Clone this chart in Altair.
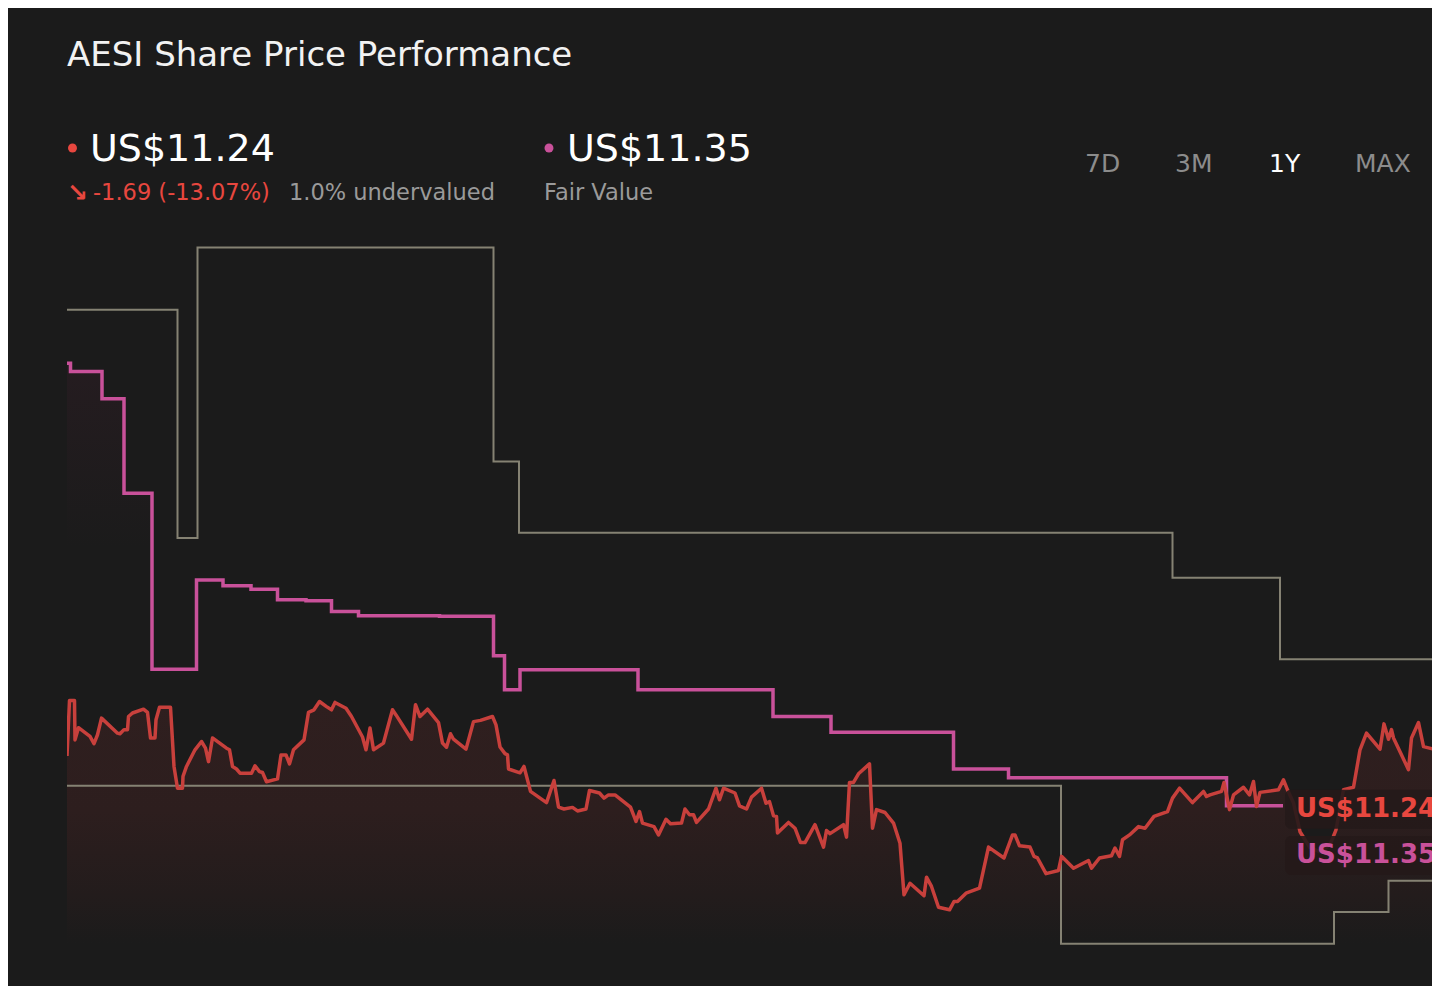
import altair as alt
import pandas as pd

# ---------------- data (trading-day index, price in US$) ----------------
price_day = [
    0, 0.5, 1.5, 1.6, 2.3, 4.6, 5.4, 6.1, 6.9, 10.1,
    10.6, 11.4, 12.1, 12.3, 13.1, 15.3, 16.1, 16.7, 17.6, 17.8,
    18.5, 20.7, 21.4, 22.1, 23.1, 23.2, 23.9, 25.6, 26.9, 27.7,
    28.3, 29.1, 31.9, 32.5, 33.1, 33.9, 34.6, 36.9, 37.6, 38.5,
    39.1, 39.9, 42.1, 42.8, 43.8, 44.5, 45.3, 47.4, 48.3, 49.4,
    50.5, 51.9, 52.9, 53.6, 55.8, 56.9, 59.1, 59.8, 60.6, 61.3,
    63.3, 65.1, 65.8, 68.9, 69.7, 70.6, 72.1, 74.3, 75.1, 75.9,
    76.7, 77.3, 79.8, 81.3, 82.7, 85.1, 85.8, 86.6, 87.6, 88.1,
    88.3, 90.6, 91.4, 92.7, 95.9, 97.4, 98.3, 99.4, 101.1, 102.1,
    103.8, 104.5, 106.5, 107.4, 108.3, 109.6, 112.7, 113.8, 114.5, 115.1,
    117.4, 118.3, 119.8, 120.7, 122.9, 123.6, 124.5, 125.3, 125.9, 128.3,
    129.8, 130.5, 131.3, 133.6, 134.5, 135.9, 136.9, 138.9, 139.8, 140.5,
    141.3, 141.9, 142.1, 144.3, 145.6, 146.7, 147.6, 149.6, 151.3, 151.9,
    152.6, 155.3, 155.9, 156.5, 157.3, 158.3, 160.5, 161.1, 161.9, 163.6,
    165.3, 166.6, 167.4, 168.6, 171.4, 171.9, 172.9, 174.3, 176.5, 177.4,
    178.1, 179.8, 182.5, 184.3, 187.4, 189.1, 189.6, 190.5, 192.6, 193.4,
    194.1, 195.8, 198.3, 198.9, 201.3, 204.3, 204.9, 206.5, 208.9, 209.6,
    210.5, 211.1, 212.5, 214.3, 215.6, 217.4, 220.1, 221.1, 222.5, 225.1,
    227.3, 227.9, 228.6, 230.9, 231.4, 232.5, 233.3, 235.3, 236.5, 237.3,
    237.9, 238.6, 242.3, 243.3, 244.1, 245.3, 246.6, 248.6, 250.6, 252.6,
    253.8, 255.3, 257.3, 258.6, 259.9, 262.6, 263.4, 264.3, 264.9, 265.3,
    268.3, 268.9, 270.3, 271.3, 273.9, 274.6,
]
price_val = [
    12.91, 14.64, 14.64, 13.41, 13.79, 13.52, 13.29, 13.57, 14.09, 13.62,
    13.60, 13.73, 13.73, 14.14, 14.25, 14.37, 14.27, 13.47, 13.47, 14.04,
    14.43, 14.43, 12.58, 11.90, 11.90, 12.27, 12.58, 13.10, 13.36, 13.15,
    12.73, 13.47, 13.15, 13.10, 12.58, 12.50, 12.37, 12.37, 12.60, 12.42,
    12.39, 12.10, 12.19, 12.94, 12.94, 12.66, 13.10, 13.41, 14.27, 14.35,
    14.61, 14.45, 14.35, 14.58, 14.40, 14.14, 13.50, 13.10, 13.78, 13.10,
    13.31, 14.35, 14.19, 13.43, 14.51, 14.14, 14.37, 13.95, 13.31, 13.18,
    13.60, 13.43, 13.12, 13.98, 14.02, 14.14, 13.88, 13.19, 12.98, 12.94,
    12.50, 12.38, 12.58, 11.80, 11.45, 12.14, 11.31, 11.25, 11.30, 11.19,
    11.25, 11.83, 11.75, 11.59, 11.69, 11.69, 11.31, 10.86, 11.17, 10.81,
    10.70, 10.44, 10.93, 10.79, 10.81, 11.25, 11.07, 11.07, 10.83, 11.25,
    11.90, 11.54, 11.90, 11.75, 11.35, 11.25, 11.62, 11.90, 11.43, 11.48,
    11.04, 11.02, 10.50, 10.83, 10.65, 10.20, 10.20, 10.76, 10.06, 10.58,
    10.48, 10.76, 10.37, 12.08, 12.08, 12.35, 12.66, 10.65, 11.23, 11.14,
    10.81, 10.18, 8.57, 8.93, 8.54, 9.12, 8.83, 8.18, 8.10, 8.36,
    8.36, 8.62, 8.78, 10.06, 9.72, 10.44, 10.44, 10.10, 10.06, 9.77,
    9.72, 9.23, 9.33, 9.77, 9.40, 9.64, 9.40, 9.72, 9.79, 10.03,
    9.77, 10.29, 10.44, 10.70, 10.65, 11.02, 11.17, 11.59, 11.90, 11.45,
    11.80, 11.64, 11.69, 11.80, 12.08, 11.23, 11.69, 11.93, 11.69, 12.11,
    11.33, 11.77, 11.85, 12.16, 11.85, 11.44, 10.54, 10.04, 9.91, 10.13,
    10.60, 11.85, 11.93, 13.10, 13.62, 13.12, 13.91, 13.43, 13.73, 13.47,
    12.48, 13.47, 13.95, 13.20, 13.10, 12.79,
]

fair_day = [0, 0.7, 7.0, 11.4, 17.0, 25.9, 31.2, 36.8, 42.1, 47.8, 52.9, 58.3,
            74.5, 85.3, 87.5, 90.6, 114.2, 141.2, 152.8, 177.3, 188.3, 231.9, 243.2]
fair_val = [25.18, 24.92, 24.07, 21.12, 15.62, 18.41, 18.23, 18.12, 17.79, 17.76, 17.42, 17.29,
            17.27, 16.04, 14.98, 15.60, 14.98, 14.14, 13.65, 12.50, 12.23, 11.35, 11.35]

high_day = [0, 22.1, 26.1, 85.3, 90.4, 221.1, 242.6, 276]
high_val = [26.85, 19.72, 28.80, 22.11, 19.88, 18.48, 15.93, 15.93]

low_day = [0, 198.8, 253.4, 264.3, 276]
low_val = [11.98, 7.04, 8.03, 9.01, 9.01]

last_price = "US$11.24"
fair_value = "US$11.35"
change_text = "-1.69 (-13.07%)"
valuation_text = "1.0% undervalued"
title_text = "AESI Share Price Performance"
ranges = ["7D", "3M", "1Y", "MAX"]

# ---------------- styling ----------------
BG = "#1b1b1b"
RED = "#c8403c"
RED_TXT = "#e8473f"
PINK = "#c9519a"
GREY = "#858273"
FONT = "DejaVu Sans"

price_df = pd.DataFrame({"day": price_day, "v": price_val})
price_df["i"] = range(len(price_df))
fair_df = pd.DataFrame({"day": fair_day, "v": fair_val})
fair_df["i"] = range(len(fair_df))
high_df = pd.DataFrame({"day": high_day, "v": high_val})
low_df = pd.DataFrame({"day": low_day, "v": low_val})

xs = alt.Scale(domain=[0, 273], nice=False, zero=False)
ys = alt.Scale(domain=[6, 30], nice=False, zero=False)
X = alt.X("day:Q", scale=xs, axis=None)
Y = alt.Y("v:Q", scale=ys, axis=None)

red_grad = alt.Gradient(
    gradient="linear",
    stops=[
        alt.GradientStop(color="#2f1f1f", offset=0),
        alt.GradientStop(color="#2d1e1e", offset=0.4),
        alt.GradientStop(color="#231c1c", offset=0.7),
        alt.GradientStop(color="#1b1b1b", offset=0.88),
    ],
    x1=0, x2=0, y1=0, y2=1,
)
pink_grad = alt.Gradient(
    gradient="linear",
    stops=[
        alt.GradientStop(color="#251c20", offset=0),
        alt.GradientStop(color="#1b1b1b", offset=0.3),
    ],
    x1=0, x2=0, y1=0, y2=1,
)

pink_area = alt.Chart(fair_df).mark_area(interpolate="step-after", fill=pink_grad, opacity=1, clip=True).encode(
    x=X, y=Y, y2=alt.datum(6))
red_area = alt.Chart(price_df).mark_area(fill=red_grad, opacity=1, clip=True).encode(
    x=X, y=Y, y2=alt.datum(6))
high_line = alt.Chart(high_df).mark_line(interpolate="step-after", color=GREY, strokeWidth=2, clip=True).encode(x=X, y=Y)
low_line = alt.Chart(low_df).mark_line(interpolate="step-after", color=GREY, strokeWidth=2, clip=True).encode(x=X, y=Y)
fair_line = alt.Chart(fair_df).mark_line(interpolate="step-after", color=PINK, strokeWidth=3.5, clip=True).encode(
    x=X, y=Y, order="i:Q")
price_line = alt.Chart(price_df).mark_line(color=RED, strokeWidth=3.5, clip=True, strokeJoin="round").encode(
    x=X, y=Y, order="i:Q")

# end-of-series label boxes
box_df = pd.DataFrame({"x0": [243.6, 243.6], "x1": [292, 292], "y0": [11.85, 10.41], "y1": [10.63, 9.19]})
boxes = alt.Chart(box_df).mark_rect(color="#251a1a", opacity=0.9, cornerRadius=6).encode(
    x=alt.X("x0:Q", scale=xs, axis=None), x2="x1:Q",
    y=alt.Y("y0:Q", scale=ys, axis=None), y2="y1:Q")
lab_df = pd.DataFrame({"day": [245.8, 245.8], "v": [11.0, 9.57], "t": [last_price, fair_value], "c": ["p", "f"]})
end_labels = alt.Chart(lab_df).mark_text(align="left", baseline="alphabetic", fontSize=26, fontWeight="bold", font=FONT).encode(
    x=X, y=Y, text="t:N",
    color=alt.Color("c:N", scale=alt.Scale(domain=["p", "f"], range=[RED_TXT, PINK]), legend=None))


def txt(text, gx, gy, size, color, weight="normal"):
    return alt.Chart(alt.Data(values=[{"t": text}])).mark_text(
        align="left", baseline="alphabetic", fontSize=size, color=color, fontWeight=weight, font=FONT
    ).encode(x=alt.value(gx), y=alt.value(gy), text="t:N")


def dot(gx, gy, color):
    return alt.Chart(alt.Data(values=[{"a": 1}])).mark_circle(size=80, color=color, opacity=1).encode(
        x=alt.value(gx), y=alt.value(gy))


header = [
    txt(title_text, 0, -143, 34, "#f2f2f2"),
    dot(5.5, -61, RED_TXT),
    txt(last_price, 23, -48, 38, "#ffffff"),
    txt("↘", 0, -8, 25, RED_TXT, "bold"),
    txt(change_text, 26, -9, 22.5, RED_TXT),
    txt(valuation_text, 222, -9, 22.5, "#9a9a9a"),
    dot(482, -61, PINK),
    txt(fair_value, 500, -48, 38, "#ffffff"),
    txt("Fair Value", 477, -9, 22.5, "#9a9a9a"),
    txt(ranges[0], 1018, -37, 25, "#8c8c8c"),
    txt(ranges[1], 1108, -37, 25, "#8c8c8c"),
    txt(ranges[2], 1202, -37, 25, "#ffffff"),
    txt(ranges[3], 1288, -37, 25, "#8c8c8c"),
]

chart = alt.layer(
    pink_area, red_area, high_line, low_line, fair_line, price_line, boxes, end_labels, *header
).properties(
    width=1365,
    height=768,
    background=BG,
    autosize=alt.AutoSizeParams(type="none"),
    padding={"left": 59, "top": 201, "right": 0, "bottom": 9},
).configure_view(strokeWidth=0)

chart.save("out.html", embed_options={"renderer": "svg", "actions": False})
